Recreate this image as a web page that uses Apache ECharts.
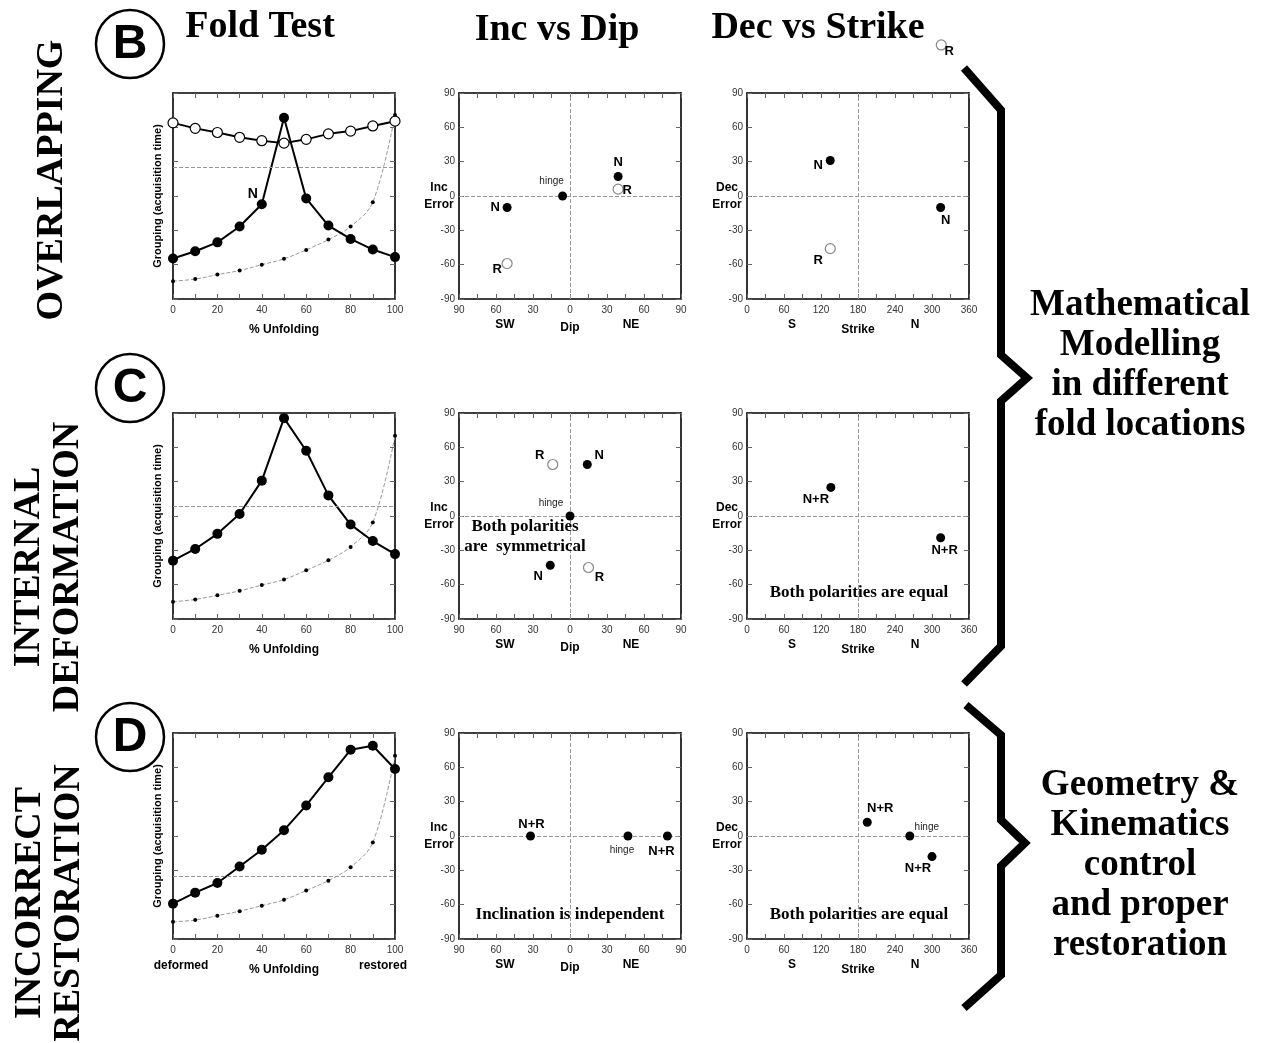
<!DOCTYPE html>
<html><head><meta charset="utf-8">
<script src="https://cdn.jsdelivr.net/npm/echarts@6/dist/echarts.min.js"></script>
<style>html,body{margin:0;padding:0;background:#fff}#c{width:1266px;height:1043px}</style>
</head><body><div id="c"></div>
<script>
// ---------------- DATA ----------------
const unfolding = [0,10,20,30,40,50,60,70,80,90,100];
// Fold test (grouping, arbitrary units 0-6)
const foldB_N   = [1.18,1.39,1.65,2.11,2.76,5.28,2.93,2.14,1.75,1.44,1.22];
const foldB_R   = [5.13,4.97,4.85,4.71,4.61,4.54,4.65,4.81,4.89,5.04,5.18];
const foldB_ref = [0.52,0.58,0.71,0.83,1.00,1.17,1.43,1.73,2.11,2.82,5.36];
const foldB_crit = 3.84;
const foldC_N   = [1.70,2.04,2.48,3.06,4.03,5.85,4.90,3.60,2.75,2.27,1.89];
const foldC_ref = [0.50,0.57,0.69,0.82,0.99,1.15,1.42,1.71,2.10,2.81,5.34];
const foldC_crit = 3.27;
const foldD_N   = [1.03,1.35,1.63,2.11,2.60,3.17,3.89,4.71,5.51,5.63,4.95];
const foldD_ref = [0.50,0.55,0.68,0.81,0.97,1.14,1.41,1.70,2.09,2.81,5.34];
const foldD_crit = 1.84;

// Inc vs Dip  [dip (negative = SW), inc error]
const incB_filled = [[-6,0],[-51,-10],[39,17]];
const incB_filledNames = ['hinge','N','N'];
const incB_open = [[-51,-59],[39,6]];
const incB_openNames = ['R','R'];
const incC_filled = [[0,0],[14,45],[-16,-43]];
const incC_filledNames = ['hinge','N','N'];
const incC_open = [[-14,45],[15,-45]];
const incC_openNames = ['R','R'];
const incD_filled = [[-32,0],[47,0],[79,0]];
const incD_filledNames = ['N+R','hinge','N+R'];

// Dec vs Strike [strike, dec error]
const decB_filled = [[135,31],[314,-10]];
const decB_filledNames = ['N','N'];
const decB_open = [[135,-46],[315,132]];
const decB_openNames = ['R','R'];
const decC_filled = [[136,25],[314,-19]];
const decC_filledNames = ['N+R','N+R'];
const decD_filled = [[195,12],[264,0],[300,-18]];
const decD_filledNames = ['N+R','hinge','N+R'];

// Tick label sets
const foldTicks = {min:0, max:100, interval:20};
const dipTicks = {min:-90, max:90, interval:30};
const strikeTicks = {min:0, max:360, interval:60};
const errTicks = {min:-90, max:90, interval:30};

// ---------------- LAYOUT ----------------
const GW = 222, GH = 206;
const colLeft = [173, 459, 747];
const rowTop = [93, 413, 733];
const SANS = '"Liberation Sans Narrow","Liberation Sans",Arial,sans-serif';
const SERIF = '"Liberation Serif","Times New Roman",serif';

const grids = [], xAxes = [], yAxes = [], series = [], graphics = [];

const tickStyle = {show:true, inside:true, length:5, lineStyle:{color:'#666', width:1}};
const boxLine = {show:true, onZero:false, lineStyle:{color:'#000', width:1.6}};
const labelStyle = {fontSize:10, color:'#333', fontFamily:SANS};

function addPanel(r, c, xt, yt, opts){
  const g = grids.length;
  grids.push({left:colLeft[c], top:rowTop[r], width:GW, height:GH});
  const minor = {show:true, splitNumber:2, length:5, lineStyle:{color:'#666', width:1}};
  const xb = {gridIndex:g, type:'value', min:xt.min, max:xt.max, interval:xt.interval, position:'bottom',
    axisLine:boxLine, axisTick:tickStyle, minorTick:minor, splitLine:{show:false}, minorSplitLine:{show:false},
    axisLabel:Object.assign({show:true, margin:6, formatter:opts.xFmt || '{value}'}, labelStyle)};
  if (opts.xName) { Object.assign(xb, {name:opts.xName, nameLocation:'middle', nameGap:opts.xGap||28, nameMoveOverlap:false,
    nameTextStyle:{fontSize:12, fontWeight:'bold', color:'#000', fontFamily:SANS}}); }
  xAxes.push(xb);
  xAxes.push({gridIndex:g, type:'value', min:xt.min, max:xt.max, interval:xt.interval, position:'top',
    axisLine:boxLine, axisTick:tickStyle, minorTick:minor, splitLine:{show:false}, axisLabel:{show:false}});
  const yl = {gridIndex:g, type:'value', min:yt.min, max:yt.max, interval:yt.interval, position:'left',
    axisLine:boxLine, axisTick:tickStyle, splitLine:{show:false},
    axisLabel:Object.assign({show:!!opts.yLabels, margin:4}, labelStyle)};
  if (opts.yName) { Object.assign(yl, {name:opts.yName, nameLocation:'middle', nameGap:opts.yGap, nameMoveOverlap:false,
    nameRotate:opts.yRotate, nameTextStyle:Object.assign({fontSize:opts.yNameSize||12, fontWeight:'bold', color:'#000',
    fontFamily:SANS, lineHeight:17}, opts.yNameStyle||{})}); }
  yAxes.push(yl);
  yAxes.push({gridIndex:g, type:'value', min:yt.min, max:yt.max, interval:yt.interval, position:'right',
    axisLine:boxLine, axisTick:tickStyle, splitLine:{show:false}, axisLabel:{show:false}});
  return g;
}

const dashed = {type:'dashed', color:'#999', width:1};
function ml(data){ return {silent:true, symbol:['none','none'], label:{show:false}, lineStyle:dashed, data:data, animation:false}; }

function foldPanel(r, N, R, ref, crit, nLabel){
  const g = addPanel(r, 0, foldTicks, {min:0,max:6,interval:1},
    {xName:'% Unfolding', xGap:25, yName:'Grouping (acquisition time)', yGap:7, yRotate:90, yNameSize:11});
  const ax = {xAxisIndex:2*g, yAxisIndex:2*g};
  series.push(Object.assign({type:'line', smooth:0.35, data:unfolding.map((x,i)=>[x,ref[i]]),
    symbol:'circle', symbolSize:4, showAllSymbol:true, itemStyle:{color:'#000', opacity:1},
    lineStyle:dashed, z:2, markLine:ml([{yAxis:crit}])}, ax));
  if (R) series.push(Object.assign({type:'line', data:unfolding.map((x,i)=>[x,R[i]]), symbol:'circle', symbolSize:10,
    showAllSymbol:true, itemStyle:{color:'#fff', borderColor:'#000', borderWidth:1.2, opacity:1},
    lineStyle:{color:'#000', width:2}, z:3}, ax));
  series.push(Object.assign({type:'line', data:unfolding.map((x,i)=>{
      const d = {value:[x,N[i]]};
      if (nLabel && nLabel.index===i) d.label = {show:true, position:'inside', formatter:nLabel.text, offset:nLabel.offset,
        fontSize:14, fontWeight:'bold', color:'#000', fontFamily:SANS};
      return d; }),
    symbol:'circle', symbolSize:10, showAllSymbol:true, itemStyle:{color:'#000', opacity:1},
    lineStyle:{color:'#000', width:2}, z:4}, ax));
  return g;
}

function pts(g, data, names, offsets, open){
  series.push({type:'scatter', xAxisIndex:2*g, yAxisIndex:2*g, clip:false, symbol:'circle', symbolSize:open?10:9,
    itemStyle: open ? {color:'#fff', borderColor:'#888', borderWidth:1.2, opacity:1} : {color:'#000', opacity:1},
    data: data.map((p,i)=>({value:p, label:{show:true, position:'inside', formatter:names[i], offset:offsets[i],
      fontSize:names[i]==='hinge'?10:13, fontWeight:names[i]==='hinge'?'normal':'bold',
      color:names[i]==='hinge'?'#222':'#000', fontFamily:SANS}})), z:5});
}

function incPanel(r){
  return addPanel(r, 1, dipTicks, errTicks, {xName:'Dip', xGap:23, xFmt:v=>String(Math.abs(v)), yLabels:true,
    yName:'Inc\nError', yGap:20, yRotate:0, yNameStyle:{align:'center', verticalAlign:'middle', padding:[3,0,0,0]}});
}
function decPanel(r){
  return addPanel(r, 2, strikeTicks, errTicks, {xName:'Strike', xGap:25, yLabels:true,
    yName:'Dec\nError', yGap:20, yRotate:0, yNameStyle:{align:'center', verticalAlign:'middle', padding:[3,0,0,0]}});
}
function zeroLines(g, xz){
  series.push({type:'scatter', xAxisIndex:2*g, yAxisIndex:2*g, data:[], markLine:ml([{yAxis:0},{xAxis:xz}])});
}

// Row B
const gB0 = foldPanel(0, foldB_N, foldB_R, foldB_ref, foldB_crit, {index:4, text:'N', offset:[-9,-10]});
const gB1 = incPanel(0); zeroLines(gB1, 0);
pts(gB1, incB_filled, incB_filledNames, [[-11,-15],[-12,0],[0,-14]], false);
pts(gB1, incB_open, incB_openNames, [[-10,6],[9,1]], true);
const gB2 = decPanel(0); zeroLines(gB2, 180);
pts(gB2, decB_filled, decB_filledNames, [[-12,5],[5,13]], false);
pts(gB2, decB_open, decB_openNames, [[-12,12],[8,6]], true);

// Row C
const gC0 = foldPanel(1, foldC_N, null, foldC_ref, foldC_crit, null);
const gC1 = incPanel(1); zeroLines(gC1, 0);
pts(gC1, incC_filled, incC_filledNames, [[-19,-13],[12,-9],[-12,11]], false);
pts(gC1, incC_open, incC_openNames, [[-13,-9],[11,10]], true);
const gC2 = decPanel(1); zeroLines(gC2, 180);
pts(gC2, decC_filled, decC_filledNames, [[-15,12],[4,13]], false);

// Row D
const gD0 = foldPanel(2, foldD_N, null, foldD_ref, foldD_crit, null);
const gD1 = incPanel(2); zeroLines(gD1, 0);
pts(gD1, incD_filled, incD_filledNames, [[1,-12],[-6,14],[-6,15]], false);
const gD2 = decPanel(2); zeroLines(gD2, 180);
pts(gD2, decD_filled, decD_filledNames, [[13,-14],[17,-9],[-14,12]], false);

// ---------------- TEXT / DECORATION ----------------
function txt(x, y, text, font, extra){
  graphics.push(Object.assign({type:'text', x:x, y:y, z:10, style:{text:text, font:font, fill:'#000',
    textAlign:'center', textVerticalAlign:'middle', align:'center', verticalAlign:'middle',
    lineHeight:(extra&&extra.lh)||undefined}}, extra&&extra.el||{}));
}
const BIG = 'bold 38px ' + SERIF;
txt(260, 27, 'Fold Test', BIG);
txt(557, 30, 'Inc vs Dip', BIG);
txt(818, 28, 'Dec vs Strike', BIG);

[['B',44],['C',388],['D',737]].forEach(([t,cy])=>{
  graphics.push({type:'circle', shape:{cx:130, cy:cy, r:34}, style:{fill:'none', stroke:'#000', lineWidth:2.5}, z:10});
  txt(130, cy+1, t, 'bold 48px "Liberation Sans",Arial,sans-serif');
});

txt(52, 180, 'OVERLAPPING', BIG, {el:{rotation:Math.PI/2}});
txt(49, 567, 'INTERNAL\nDEFORMATION', BIG, {lh:39, el:{rotation:Math.PI/2}});
txt(50, 903, 'INCORRECT\nRESTORATION', BIG, {lh:39, el:{rotation:Math.PI/2}});

const RIGHT = 'bold 37px ' + SERIF;
txt(1140, 365, 'Mathematical\nModelling\nin different\nfold locations', RIGHT, {lh:40});
txt(1140, 865, 'Geometry &\nKinematics\ncontrol\nand proper\nrestoration', RIGHT, {lh:40});

graphics.push({type:'polyline', shape:{points:[[964,68],[1001,110],[1001,355],[1027,378],[1001,401],[1001,646],[964,684]]},
  style:{stroke:'#000', lineWidth:8, fill:'none', lineJoin:'miter'}, z:10});
graphics.push({type:'polyline', shape:{points:[[966,705],[1001,735],[1001,820],[1025,843],[1001,866],[1001,975],[964,1008]]},
  style:{stroke:'#000', lineWidth:8, fill:'none', lineJoin:'miter'}, z:10});

const AX = 'bold 12px ' + SANS;
rowTop.forEach((t)=>{
  const yb = t + GH + 26;
  txt(colLeft[1] + 46, yb, 'SW', AX);
  txt(colLeft[1] + 172, yb, 'NE', AX);
  txt(colLeft[2] + 45, yb, 'S', AX);
  txt(colLeft[2] + 168, yb, 'N', AX);
});
txt(181, rowTop[2] + GH + 27, 'deformed', AX);
txt(383, rowTop[2] + GH + 27, 'restored', AX);

const PT = 'bold 17px ' + SERIF;
txt(525, 537, 'Both polarities\nare  symmetrical', PT, {lh:20});
txt(859, 593, 'Both polarities are equal', PT);
txt(570, 915, 'Inclination is independent', PT);
txt(859, 915, 'Both polarities are equal', PT);

const chart = echarts.init(document.getElementById('c'));
chart.setOption({animation:false, backgroundColor:'#fff', grid:grids, xAxis:xAxes, yAxis:yAxes, series:series, graphic:graphics});
</script></body></html>
